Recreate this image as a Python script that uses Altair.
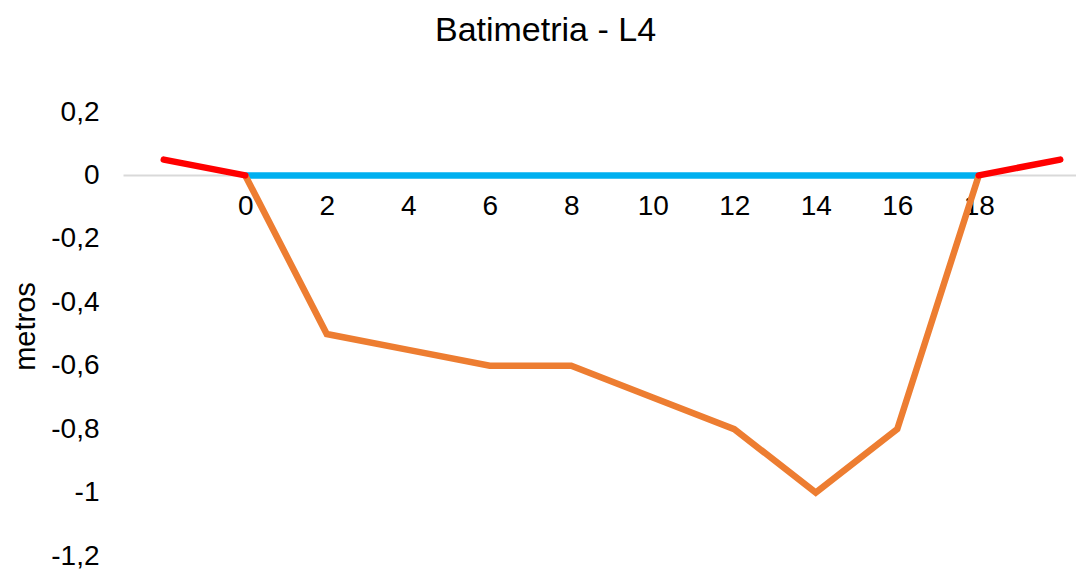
import altair as alt
import pandas as pd

# Data
dist = [0, 2, 4, 6, 8, 10, 12, 14, 16, 18]
depth = [0, -0.5, -0.55, -0.6, -0.6, -0.7, -0.8, -1.0, -0.8, 0]
water_x = [0, 18]
water_y = [0, 0]
bank_x = [-2, 0, 18, 20]
bank_y = [0.05, 0, 0, 0.05]
bank_side = ["left", "left", "right", "right"]
x_ticks = [0, 2, 4, 6, 8, 10, 12, 14, 16, 18]
y_ticks = [0.2, 0, -0.2, -0.4, -0.6, -0.8, -1.0, -1.2]

df_depth = pd.DataFrame({"x": dist, "y": depth})
df_water = pd.DataFrame({"x": water_x, "y": water_y})
df_bank = pd.DataFrame({"x": bank_x, "y": bank_y, "side": bank_side})

W, H = 953, 444
x_scale = alt.Scale(domain=[-3, -3 + W / 40.75], nice=False, zero=False)
y_scale = alt.Scale(domain=[-1.2, 0.2], nice=False, zero=False)

x_axis = alt.Axis(
    values=x_ticks, orient="bottom", offset=-381, title=None,
    grid=False, ticks=False, domainColor="#D9D9D9", domainWidth=2,
    labelFont="Liberation Sans", labelFontSize=28, labelColor="#000000",
    labelPadding=17, labelFlush=False,
)
y_axis = alt.Axis(
    values=y_ticks, title="metros", grid=False, ticks=False, domain=False,
    labelFont="Liberation Sans", labelFontSize=28, labelColor="#000000",
    labelPadding=24,
    labelExpr="(datum.value < -0.0001 ? '-' : '') + replace(format(abs(datum.value), '.1~f'), '.', ',')",
    titleFont="Liberation Sans", titleFontSize=29, titleFontWeight="normal",
    titleColor="#000000", titleX=-98, titleY=214, titleAngle=270,
    titleAlign="center", titleBaseline="middle",
)

base_x = alt.X("x:Q", scale=x_scale, axis=x_axis)
base_y = alt.Y("y:Q", scale=y_scale, axis=y_axis)

water = alt.Chart(df_water).mark_line(color="#00B0F0", strokeWidth=6.5, clip=True).encode(
    x=base_x, y=base_y
)
profile = alt.Chart(df_depth).mark_line(
    color="#ED7D31", strokeWidth=6.5, strokeJoin="miter", clip=True
).encode(x="x:Q", y="y:Q")
banks = alt.Chart(df_bank).mark_line(
    color="#FF0000", strokeWidth=6.5, strokeCap="round", clip=True
).encode(x="x:Q", y="y:Q", detail="side:N")

chart = alt.layer(water, profile, banks).properties(
    width=W, height=H,
    title=alt.TitleParams(
        "Batimetria - L4", font="Liberation Sans", fontSize=34,
        fontWeight="normal", color="#000000", anchor="middle",
        dx=-54, offset=23, baseline="alphabetic",
    ),
    autosize=alt.AutoSizeParams(type="none"),
    padding={"left": 115, "top": 104, "right": 0, "bottom": 14},
).configure_view(stroke=None)

chart.save("out.html", embed_options={"renderer": "svg", "actions": False})
